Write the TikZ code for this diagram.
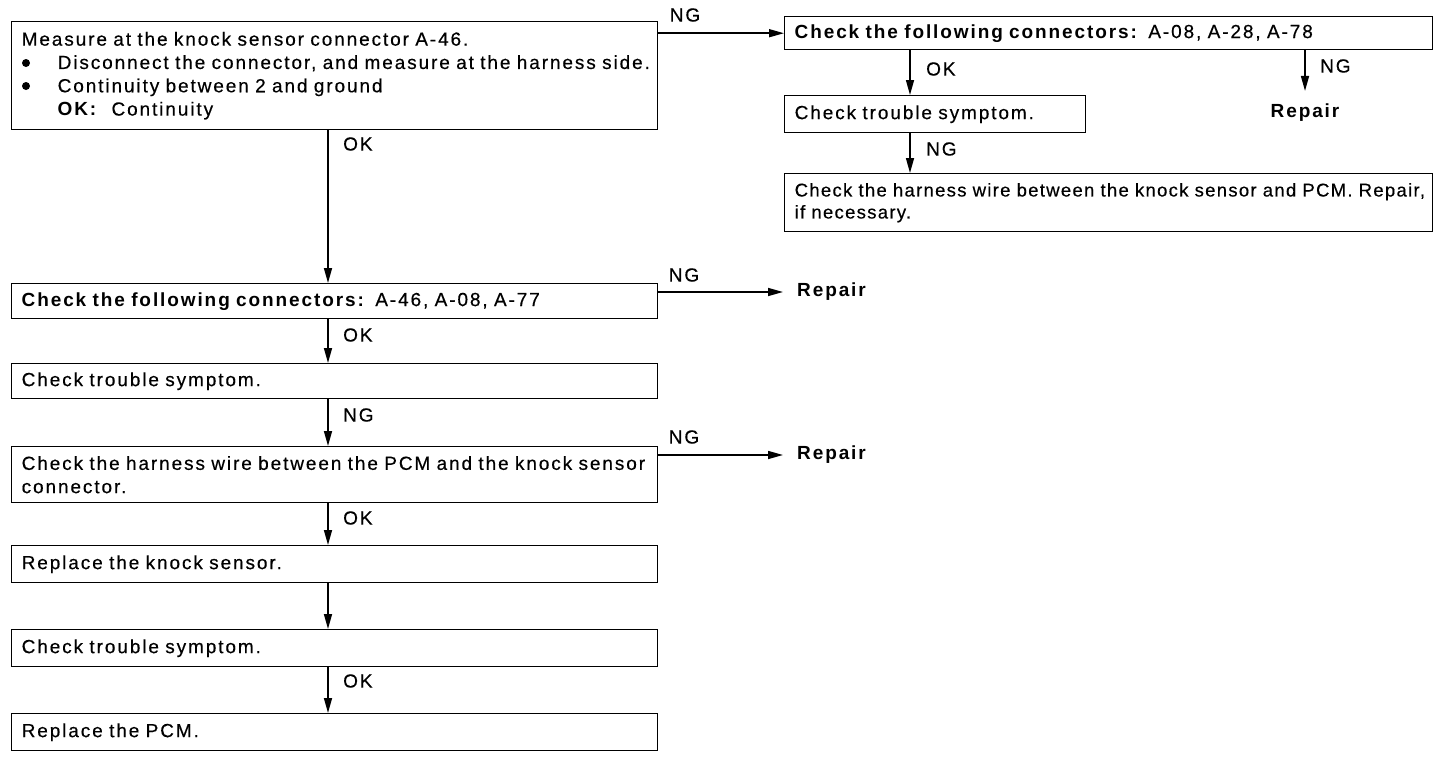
\documentclass[tikz,border=0pt]{standalone}
\usepackage{fontspec}
\setmainfont{Liberation Sans}[LetterSpace=10,WordSpace=1.8,UprightFeatures={FakeBold=0.4}]
\newfontfamily\tightfont{Liberation Sans}[LetterSpace=7,WordSpace=0.6,FakeBold=0.4]
\usetikzlibrary{arrows.meta,calc}
\begin{document}
\begin{tikzpicture}[x=1pt,y=-1pt,
  txt/.style={font=\fontsize{19}{23.3}\selectfont},
  box/.style={draw, line width=1.4pt, rectangle, anchor=north west, align=left,
              inner xsep=10pt, inner ysep=0pt, txt},
  arr/.style={line width=1.5pt, -{Triangle[length=15pt,width=8pt]}},
  lab/.style={txt, anchor=west, inner sep=0pt},
  clab/.style={txt, inner sep=0pt},
  rep/.style={font=\fontsize{19}{23.3}\selectfont\bfseries, inner sep=0pt},
  bul/.style={fill=black}
]
\useasboundingbox (0,0) rectangle (1440,756);
\coordinate (cx) at (328,0);
\coordinate (rx) at (910,0);

% left column
\node[box, text width=626pt, minimum height=108pt] (b1) at (11,21)
  {Measure at the knock sensor connector A-46.\\
   \hspace*{36pt}Disconnect the connector, and measure at the harness side.\\
   \hspace*{36pt}Continuity between 2 and ground\\
   \hspace*{36pt}\textbf{OK:}\hspace{0.7em}Continuity};
\fill[bul] ($(b1.north west)+(15,42)$) circle (4pt);
\fill[bul] ($(b1.north west)+(15,65)$) circle (4pt);
\node[box, text width=626pt, minimum height=35pt] (b5) at (11,283)
  {\textbf{Check the following connectors:} A-46, A-08, A-77};
\node[box, text width=626pt, minimum height=35pt] (b6) at (11,363)
  {Check trouble symptom.};
\node[box, text width=626pt, minimum height=56pt] (b7) at (11,446)
  {Check the harness wire between the PCM and the knock sensor\\connector.};
\node[box, text width=626pt, minimum height=37pt] (b8) at (11,545)
  {Replace the knock sensor.};
\node[box, text width=626pt, minimum height=37pt] (b9) at (11,629)
  {Check trouble symptom.};
\node[box, text width=626pt, minimum height=37pt] (b10) at (11,713)
  {Replace the PCM.};

% right column
\node[box, text width=628pt, minimum height=33pt] (b2) at (784,16)
  {\textbf{Check the following connectors:} A-08, A-28, A-78};
\node[box, text width=281pt, minimum height=37pt] (b3) at (784,95)
  {Check trouble symptom.};
\node[box, text width=628pt, minimum height=58pt,
      font=\tightfont\fontsize{18.5}{22}\selectfont] (b4) at (784,173)
  {Check the harness wire between the knock sensor and PCM. Repair,\\if necessary.};

% repair nodes
\node[rep] (r1) at (1305,113) {Repair};
\node[rep, anchor=west] (r2) at (797,292) {Repair};
\node[rep, anchor=west] (r3) at (797,455) {Repair};

% connectors
\draw[arr] (b1.east |- b2.west) -- (b2.west);
\draw[arr] (b1.south -| cx) -- (b5.north -| cx);
\draw[arr] (b2.south -| rx) -- (b3.north -| rx);
\draw[arr] (b2.south -| r1) -- ([yshift=13pt]r1.north);
\draw[arr] (b3.south -| rx) -- (b4.north -| rx);
\draw[arr] ($(b5.north east)+(0,9)$) -- ([xshift=-14pt]r2.west);
\draw[arr] (b5.south -| cx) -- (b6.north -| cx);
\draw[arr] (b6.south -| cx) -- (b7.north -| cx);
\draw[arr] ($(b7.north east)+(0,9)$) -- ([xshift=-14pt]r3.west);
\draw[arr] (b7.south -| cx) -- (b8.north -| cx);
\draw[arr] (b8.south -| cx) -- (b9.north -| cx);
\draw[arr] (b9.south -| cx) -- (b10.north -| cx);

% labels
\node[clab] (l1) at (685,15) {NG};
\node[lab] (l2) at (343,144) {OK};
\node[lab] (l3) at (926,69) {OK};
\node[lab] (l4) at (1320,66) {NG};
\node[lab] (l5) at (926,149) {NG};
\node[clab] (l6) at (684,275) {NG};
\node[lab] (l7) at (343,335) {OK};
\node[lab] (l8) at (343,415) {NG};
\node[clab] (l9) at (684,437) {NG};
\node[lab] (l10) at (343,518) {OK};
\node[lab] (l11) at (343,681) {OK};
\end{tikzpicture}
\end{document}
